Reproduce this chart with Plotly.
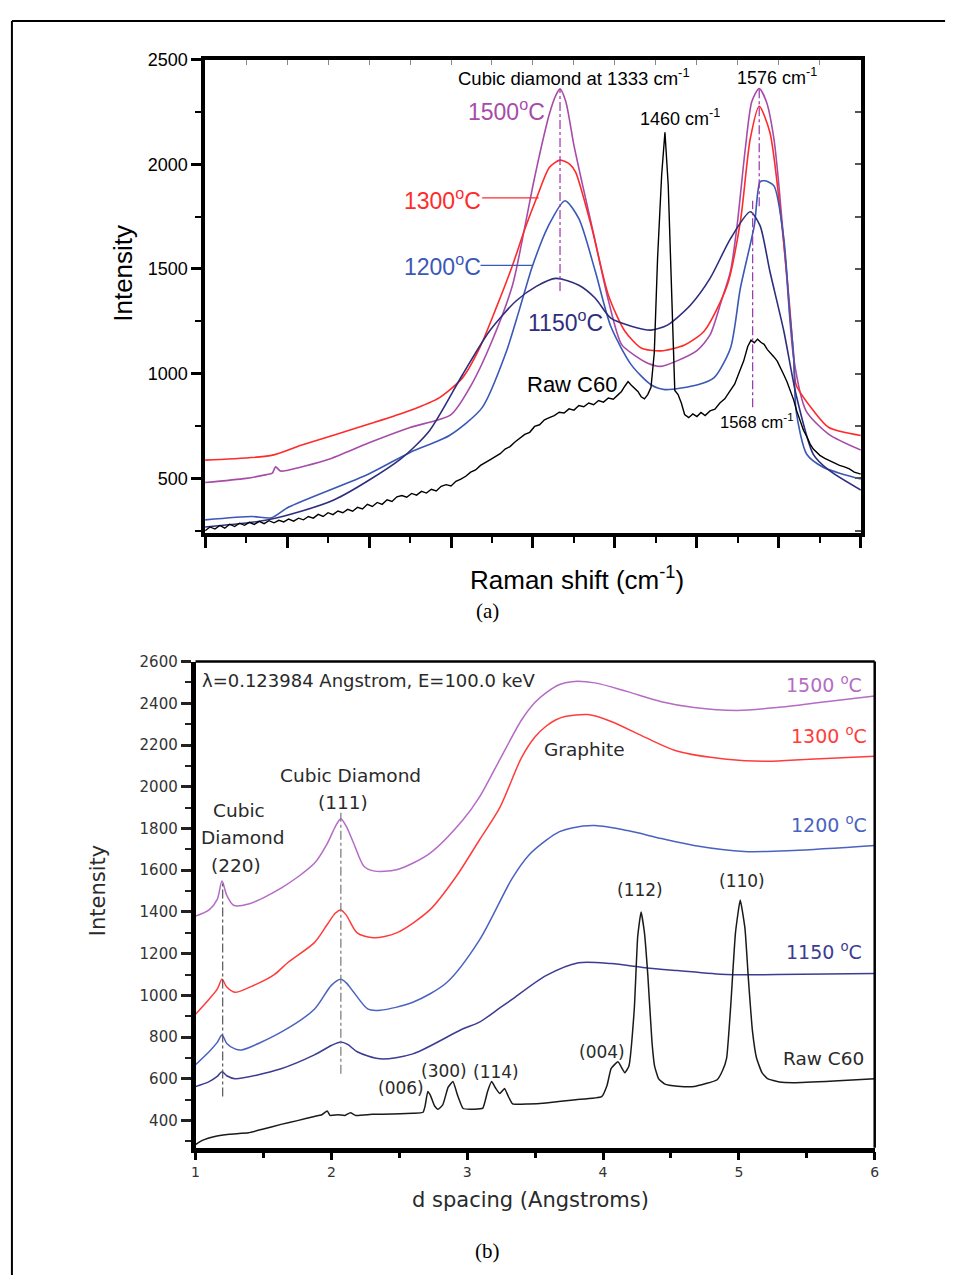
import plotly.graph_objects as go

# ---------------- (a) Raman spectra ----------------
r1500_x = [900, 950, 975, 982, 986, 992, 1000, 1050, 1100, 1150, 1200, 1225, 1250, 1275, 1290, 1300, 1310, 1320, 1328, 1333,
           1340, 1350, 1360, 1375, 1392, 1408, 1425, 1440, 1456, 1475, 1500, 1516, 1530, 1541, 1549, 1559, 1567, 1576,
           1585, 1594, 1600, 1609, 1618, 1633, 1661, 1700]
r1500_y = [480, 500, 518, 525, 555, 535, 538, 590, 670, 743, 805, 948, 1156, 1422, 1700, 1900, 2080, 2240, 2330, 2360,
           2300, 2090, 1910, 1650, 1350, 1140, 1085, 1050, 1035, 1060, 1110, 1185, 1350, 1489, 1707, 2073, 2300, 2362,
           2296, 2120, 1900, 1489, 1075, 824, 710, 635]

r1300_x = [900, 981, 1017, 1099, 1150, 1186, 1214, 1235, 1255, 1275, 1290, 1305, 1320, 1333, 1345, 1352, 1371, 1392, 1412,
           1432, 1456, 1485, 1509, 1537, 1553, 1565, 1576, 1589, 1601, 1613, 1618, 1621, 1642, 1661, 1700]
r1300_y = [587, 610, 658, 758, 824, 886, 980, 1123, 1313, 1517, 1690, 1845, 1985, 2020, 2000, 1963, 1707, 1375, 1204,
           1123, 1109, 1137, 1204, 1422, 1726, 2120, 2277, 2153, 1802, 1327, 1075, 947, 824, 743, 705]

r1200_x = [900, 957, 981, 1002, 1099, 1150, 1198, 1238, 1267, 1283, 1299, 1319, 1339, 1356, 1376, 1395, 1420, 1444, 1461,
           1501, 1521, 1541, 1553, 1570, 1577, 1583, 1594, 1606, 1613, 1618, 1621, 1634, 1654, 1678, 1700]
r1200_y = [302, 318, 312, 363, 520, 624, 705, 838, 1100, 1300, 1510, 1707, 1826, 1740, 1489, 1225, 1042, 947, 924,
           947, 981, 1123, 1408, 1707, 1916, 1921, 1897, 1645, 1300, 1090, 824, 615, 553, 520, 497]

r1150_x = [900, 977, 1057, 1138, 1174, 1214, 1247, 1279, 1304, 1328, 1356, 1376, 1395, 1420, 1444, 1464, 1492, 1516, 1541,
           1565, 1577, 1589, 1606, 1621, 1642, 1661, 1700]
r1150_y = [268, 302, 397, 591, 729, 995, 1204, 1346, 1417, 1455, 1422, 1360, 1265, 1227, 1208, 1232, 1327, 1455, 1645,
           1773, 1707, 1489, 1204, 900, 615, 539, 444]

rraw_x = [900, 906, 912, 918, 924, 930, 936, 942, 948, 954, 960, 966, 972, 978, 984, 990, 996, 1002, 1008, 1014, 1020,
          1026, 1032, 1038, 1044, 1050, 1056, 1062, 1068, 1074, 1080, 1086, 1092, 1098, 1104, 1110, 1116, 1122, 1128,
          1134, 1140, 1146, 1152, 1158, 1164, 1170, 1176, 1182, 1188, 1194, 1200, 1206, 1212, 1218, 1224, 1230, 1236,
          1242, 1248, 1254, 1260, 1266, 1272, 1278, 1284, 1290, 1296, 1302, 1308, 1314, 1320, 1326, 1332, 1338, 1344,
          1350, 1356, 1362, 1368, 1374, 1380, 1386, 1392, 1398, 1404, 1408, 1412, 1416, 1420, 1424, 1428, 1432, 1436,
          1440, 1444, 1448, 1452, 1457, 1461, 1465, 1469, 1473, 1477, 1481, 1485, 1490, 1495, 1500, 1505, 1510, 1516,
          1522, 1528, 1534, 1540, 1546, 1552, 1557, 1562, 1566, 1570, 1574, 1578, 1582, 1586, 1590, 1594, 1598, 1602,
          1606, 1610, 1614, 1618, 1622, 1626, 1630, 1634, 1638, 1642, 1646, 1650, 1656, 1662, 1668, 1674, 1680, 1686,
          1692, 1700]
rraw_y = [250, 268, 258, 275, 262, 281, 270, 286, 276, 290, 280, 295, 284, 298, 288, 300, 292, 306, 296, 310, 302,
          318, 310, 328, 318, 336, 327, 344, 336, 352, 343, 362, 354, 376, 366, 385, 376, 398, 390,
          412, 418, 410, 428, 420, 438, 430, 448, 440, 462, 470, 464, 486, 496, 510, 530, 540, 562,
          574, 590, 604, 618, 640, 652, 674, 690, 710, 720, 748, 756, 780, 790, 800, 816, 812, 832,
          826, 848, 842, 860, 852, 872, 864, 884, 878, 900, 915, 940, 962, 945, 932, 915, 890, 880,
          900, 935, 1100, 1550, 1950, 2153, 1900, 1450, 920, 900, 860, 805, 790, 808, 795, 815, 800, 822,
          830, 860, 880, 915, 950, 1010, 1060, 1130, 1160, 1148, 1165, 1150, 1140, 1115, 1100, 1080, 1060, 1030,
          995, 960, 920, 875, 820, 770, 730, 700, 665, 640, 625, 610, 596, 585, 575, 562, 555, 545,
          530, 520]

raman_peaks = [1333, 1460, 1568, 1576]

# ---------------- (b) XRD patterns ----------------
b1500_x = [1.0, 1.10, 1.16, 1.195, 1.23, 1.28, 1.39, 1.63, 1.875, 1.97, 2.03, 2.07, 2.11, 2.165, 2.24, 2.31, 2.48, 2.725,
           2.965, 3.09, 3.24, 3.40, 3.50, 3.58, 3.68, 3.77, 3.94, 4.18, 4.43, 4.67, 4.99, 5.28, 5.64, 6.0]
b1500_y = [1380, 1410, 1460, 1548, 1480, 1432, 1438, 1514, 1633, 1728, 1810, 1847, 1810, 1728, 1619, 1597, 1602, 1681,
           1838, 1950, 2130, 2320, 2405, 2450, 2490, 2504, 2498, 2456, 2408, 2380, 2366, 2380, 2408, 2435]

b1300_x = [1.0, 1.10, 1.16, 1.195, 1.23, 1.29, 1.40, 1.58, 1.68, 1.875, 1.97, 2.03, 2.07, 2.11, 2.19, 2.31, 2.48, 2.725,
           2.92, 3.09, 3.24, 3.40, 3.50, 3.58, 3.65, 3.72, 3.89, 4.06, 4.31, 4.55, 4.91, 5.21, 5.52, 6.0]
b1300_y = [910, 982, 1030, 1077, 1040, 1015, 1040, 1100, 1158, 1253, 1340, 1395, 1410, 1385, 1300, 1276, 1300, 1410,
           1571, 1745, 1900, 2140, 2240, 2290, 2320, 2337, 2346, 2313, 2237, 2170, 2132, 2122, 2132, 2146]

b1200_x = [1.0, 1.10, 1.16, 1.195, 1.23, 1.29, 1.34, 1.63, 1.875, 2.0, 2.07, 2.11, 2.165, 2.27, 2.36, 2.60, 2.85, 3.09,
           3.33, 3.45, 3.58, 3.68, 3.77, 3.94, 4.18, 4.43, 4.67, 5.04, 5.40, 6.0]
b1200_y = [668, 730, 775, 810, 770, 744, 739, 824, 934, 1048, 1077, 1060, 1015, 934, 929, 967, 1062, 1265,
           1560, 1670, 1743, 1785, 1803, 1814, 1790, 1752, 1719, 1690, 1695, 1719]

b1150_x = [1.0, 1.10, 1.16, 1.195, 1.23, 1.29, 1.63, 1.875, 2.0, 2.07, 2.12, 2.19, 2.36, 2.60, 2.965, 3.09, 3.24, 3.33,
           3.58, 3.82, 4.06, 4.31, 4.55, 4.91, 5.28, 6.0]
b1150_y = [563, 587, 612, 634, 615, 601, 649, 715, 760, 777, 765, 730, 696, 720, 839, 872, 940, 981,
           1095, 1157, 1153, 1133, 1119, 1100, 1100, 1105]

braw_x = [1.0, 1.05, 1.15, 1.25, 1.39, 1.50, 1.63, 1.75, 1.875, 1.93, 1.97, 1.99, 2.05, 2.10, 2.14, 2.18, 2.30, 2.45,
          2.60, 2.675, 2.69, 2.71, 2.73, 2.76, 2.785, 2.82, 2.86, 2.895, 2.93, 2.97, 3.05, 3.115, 3.15, 3.18, 3.21,
          3.24, 3.275, 3.30, 3.335, 3.45, 3.58, 3.80, 3.99, 4.03, 4.06, 4.11, 4.16, 4.19, 4.23, 4.255, 4.28, 4.305,
          4.33, 4.36, 4.38, 4.41, 4.455, 4.55, 4.67, 4.84, 4.88, 4.91, 4.94, 4.975, 5.01, 5.045, 5.07, 5.10, 5.13,
          5.17, 5.21, 5.30, 5.40, 5.70, 6.0]
braw_y = [285, 305, 325, 335, 342, 360, 382, 400, 420, 428, 446, 425, 428, 425, 438, 425, 430, 432,
          435, 440, 470, 540, 520, 470, 454, 475, 560, 587, 520, 458, 455, 460, 540, 587, 555,
          530, 554, 520, 480, 480, 485, 500, 515, 570, 650, 682, 630, 660, 934, 1280, 1400, 1300,
          1095, 780, 660, 600, 575, 565, 563, 596, 640, 700, 950, 1300, 1457, 1320, 1080, 830, 700,
          630, 601, 585, 582, 590, 601]

xrd_peaks = [1.2, 2.07]

# ---------------- styles ----------------
SANS = "Liberation Sans"
SANS_B = "DejaVu Sans"
SERIF = "Liberation Serif"

C_P, C_R, C_B, C_N, C_K = "#a64ca8", "#ff2a2a", "#3a58b6", "#2e2e7e", "#000000"
C_Pb, C_Rb, C_Bb, C_Nb, C_Kb = "#b46cc4", "#ff3c3c", "#4a62c0", "#3c3c92", "#1a1a1a"

fig = go.Figure()

def line(x, y, color, xa="x", ya="y", width=1.6, shape="spline", smoothing=0.7, dash=None):
    ln = dict(color=color, width=width, shape=shape, dash=dash)
    if shape == "spline":
        ln["smoothing"] = smoothing
    fig.add_trace(go.Scatter(x=x, y=y, mode="lines", line=ln, xaxis=xa, yaxis=ya,
                             hoverinfo="skip", showlegend=False))

# (a)
line(r1500_x, r1500_y, C_P)
line(r1300_x, r1300_y, C_R)
line(r1200_x, r1200_y, C_B)
line(r1150_x, r1150_y, C_N)
line(rraw_x, rraw_y, C_K, width=1.4, shape="linear")

# dash-dot peak markers (a)
line([raman_peaks[0]] * 2, [1395, 2357], "#9933aa", xa="x3", width=1.2, shape="linear", dash="dashdot")
line([raman_peaks[3]] * 2, [1800, 2362], "#9933aa", xa="x3", width=1.2, shape="linear", dash="dashdot")
line([raman_peaks[2]] * 2, [840, 1826], "#9933aa", xa="x3", width=1.2, shape="linear", dash="dashdot")
# label leader lines
line([1238, 1307], [1840, 1840], C_R, ya="y3", width=1.2, shape="linear")
line([1236, 1299], [1517, 1517], C_B, ya="y3", width=1.2, shape="linear")

# (b)
line(b1500_x, b1500_y, C_Pb, "x2", "y2", width=1.5, smoothing=0.8)
line(b1300_x, b1300_y, C_Rb, "x2", "y2", width=1.5, smoothing=0.8)
line(b1200_x, b1200_y, C_Bb, "x2", "y2", width=1.5, smoothing=0.8)
line(b1150_x, b1150_y, C_Nb, "x2", "y2", width=1.5, smoothing=0.8)
line(braw_x, braw_y, C_Kb, "x2", "y2", width=1.5, smoothing=0.4)
line([xrd_peaks[0]] * 2, [515, 1545], "#555555", "x2", "y2", width=1.2, shape="linear", dash="dashdot")
line([xrd_peaks[1]] * 2, [625, 1880], "#777777", "x2", "y2", width=1.2, shape="linear", dash="dashdot")

# ---------------- axes ----------------
XA = [0.2119, 0.9029]
YA = [0.5867, 0.9608]
XB = [0.2018, 0.9175]
YB = [0.1006, 0.4849]

fig.update_layout(
    width=958, height=1275, margin=dict(l=0, r=0, t=0, b=0),
    paper_bgcolor="white", plot_bgcolor="white", showlegend=False,
    font=dict(family=SANS, color="black"),
    xaxis=dict(domain=XA, anchor="y", range=[900, 1700], showgrid=False, zeroline=False,
               showline=True, linecolor="black", linewidth=3.5, mirror=True,
               ticks="outside", tickvals=list(range(900, 1701, 100)), ticklen=11, tickwidth=3,
               tickcolor="black", showticklabels=False,
               minor=dict(tickvals=list(range(950, 1700, 100)), ticks="outside", ticklen=6,
                          tickwidth=2, tickcolor="black")),
    yaxis=dict(domain=YA, anchor="x", range=[240, 2500], showgrid=False, zeroline=False,
               showline=True, linecolor="black", linewidth=3.5, mirror=True,
               ticks="outside", tickvals=[500, 1000, 1500, 2000, 2500], ticklen=10, tickwidth=3,
               tickcolor="black", tickfont=dict(family=SANS, size=18, color="black"),
               minor=dict(tickvals=[250, 750, 1250, 1750, 2250], ticks="outside", ticklen=6,
                          tickwidth=2, tickcolor="black")),
    xaxis3=dict(overlaying="x", anchor="y", side="top", range=[900, 1700], showgrid=False,
                zeroline=False, showline=False, ticks="inside", tickvals=list(range(950, 1700, 50)),
                ticklen=5, tickwidth=1, tickcolor="#888888", showticklabels=False),
    yaxis3=dict(overlaying="y", anchor="x", side="right", range=[240, 2500], showgrid=False,
                zeroline=False, showline=False, ticks="inside", tickvals=list(range(250, 2500, 250)),
                ticklen=6, tickwidth=1.5, tickcolor="#555555", showticklabels=False),
    xaxis2=dict(domain=XB, anchor="y2", range=[1, 6], showgrid=False, zeroline=False,
                showline=True, linecolor="black", linewidth=4.5, mirror=False,
                ticks="outside", tickvals=[1, 2, 3, 4, 5, 6], ticklen=8, tickwidth=3, tickcolor="black",
                tickfont=dict(family=SANS_B, size=14, color="#333333"),
                minor=dict(tickvals=[1.5, 2.5, 3.5, 4.5, 5.5], ticks="outside", ticklen=6,
                           tickwidth=3, tickcolor="black")),
    yaxis2=dict(domain=YB, anchor="x2", range=[270, 2600], showgrid=False, zeroline=False,
                showline=True, linecolor="black", linewidth=4.5, mirror=False,
                ticks="outside", tickvals=list(range(400, 2601, 200)), ticklen=10, tickwidth=2.5,
                tickcolor="#222222", tickfont=dict(family=SANS_B, size=15, color="#333333"),
                minor=dict(tickvals=list(range(300, 2600, 200)), ticks="outside", ticklen=6,
                           tickwidth=2, tickcolor="#222222")),
)

# frame lines for (b) top/right, page border
shapes = [
    dict(type="line", xref="paper", yref="paper", x0=XB[0], x1=XB[1], y0=YB[1], y1=YB[1],
         line=dict(color="black", width=2.5)),
    dict(type="line", xref="paper", yref="paper", x0=XB[1], x1=XB[1], y0=YB[0], y1=YB[1],
         line=dict(color="black", width=2.5)),
    dict(type="line", xref="paper", yref="paper", x0=8 / 958, x1=950 / 958, y0=1 - 11 / 1275, y1=1 - 11 / 1275,
         line=dict(color="black", width=2)),
    dict(type="line", xref="paper", yref="paper", x0=8 / 958, x1=8 / 958, y0=0, y1=1 - 11 / 1275,
         line=dict(color="black", width=2)),
]
fig.update_layout(shapes=shapes)

ann = []

def A(text, x, y, size, color="black", family=SANS, xref="x", yref="y", angle=0, xanchor="center"):
    ann.append(dict(text=text, x=x, y=y, xref=xref, yref=yref, showarrow=False, textangle=angle,
                    xanchor=xanchor, yanchor="middle", font=dict(family=family, size=size, color=color)))

# (a) annotations
A("Cubic diamond at 1333 cm<sup>-1</sup>", 1350, 2419, 18.5)
A("1576 cm<sup>-1</sup>", 1598, 2419, 18)
A("1460 cm<sup>-1</sup>", 1479, 2225, 18)
A("1568 cm<sup>-1</sup>", 1573, 772, 16.5)
A("1500<sup>o</sup>C", 1268, 2258, 23, C_P)
A("1300<sup>o</sup>C", 1190, 1835, 23, C_R)
A("1200<sup>o</sup>C", 1190, 1517, 23, C_B)
A("1150<sup>o</sup>C", 1340, 1251, 23, C_N)
A("Raw C60", 1347, 947, 22)
A("Intensity", 0.1253, 0.7922, 26, xref="paper", yref="paper", angle=-90)
A("Raman shift (cm<sup>-1</sup>)", 0.6033, 0.5506, 26, xref="paper", yref="paper")
A("(a)", 0.5094, 0.5247, 21, family=SERIF, xref="paper", yref="paper")

# (b) annotations
def B(text, x, y, size=18, color="#2a2a2a", xanchor="center"):
    A(text, x, y, size, color, SANS_B, "x2", "y2", 0, xanchor)

B("λ=0.123984 Angstrom, E=100.0 keV", 1.03, 2508, 18, xanchor="left")
B("Cubic Diamond", 2.143, 2056, 18.5)
B("(111)", 2.085, 1923, 18.5)
B("Cubic", 1.32, 1885, 18.5)
B("Diamond", 1.35, 1757, 18.5)
B("(220)", 1.30, 1624, 18.5)
B("Graphite", 3.865, 2180, 18.5)
B("1500 <sup>o</sup>C", 5.63, 2494, 19, C_Pb)
B("1300 <sup>o</sup>C", 5.66, 2247, 19, C_Rb)
B("1200 <sup>o</sup>C", 5.66, 1823, 19, C_Bb)
B("1150 <sup>o</sup>C", 5.63, 1215, 19, C_Nb)
B("Raw C60", 5.62, 696, 18.5)
B("(112)", 4.273, 1505, 17)
B("(110)", 5.02, 1548, 17)
B("(004)", 3.995, 730, 17)
B("(006)", 2.515, 558, 17)
B("(300)", 2.83, 639, 17)
B("(114)", 3.215, 634, 17)
A("Intensity", 0.0992, 0.3035, 21, "#2a2a2a", SANS_B, "paper", "paper", -90)
A("d spacing (Angstroms)", 0.5553, 0.0596, 21, "#2a2a2a", SANS_B, "paper", "paper")
A("(b)", 0.5094, 0.0188, 21, "black", SERIF, "paper", "paper")

fig.update_layout(annotations=ann)

fig.write_html("out.html")
